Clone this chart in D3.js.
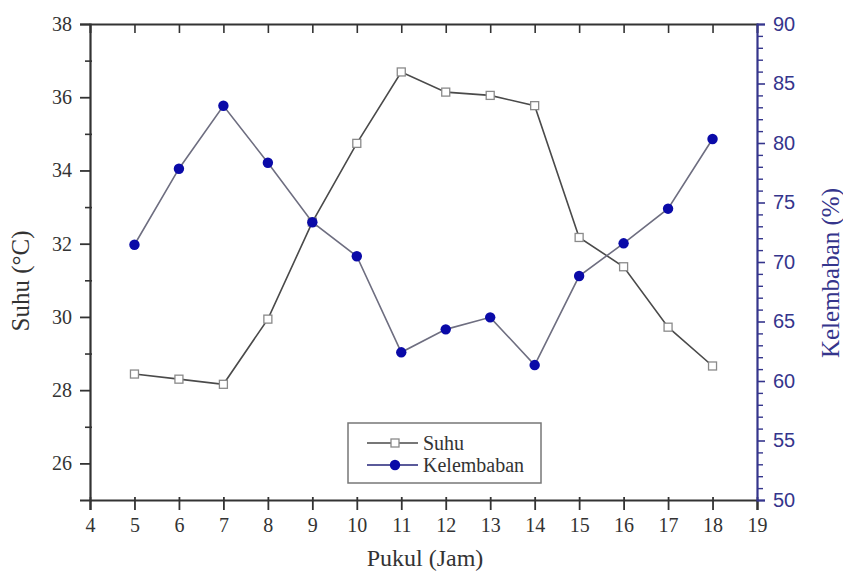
<!DOCTYPE html>
<html>
<head>
<meta charset="utf-8">
<script src="https://cdn.jsdelivr.net/npm/d3@7"></script>
<style>
  html, body { margin: 0; padding: 0; background: #fff; }
  svg { display: block; }
</style>
</head>
<body>
<svg id="chart" width="843" height="572"></svg>
<script>
// ---- Data ----
const hours = [5, 6, 7, 8, 9, 10, 11, 12, 13, 14, 15, 16, 17, 18];
const suhu = [28.44, 28.30, 28.16, 29.94, 32.59, 34.74, 36.69, 36.14, 36.05, 35.77, 32.17, 31.37, 29.72, 28.66];
const kelembaban = [71.45, 77.84, 83.13, 78.34, 73.34, 70.48, 62.41, 64.34, 65.35, 61.34, 68.82, 71.57, 74.48, 80.34];
const xTicks = [4, 5, 6, 7, 8, 9, 10, 11, 12, 13, 14, 15, 16, 17, 18, 19];
const leftTicks = [26, 28, 30, 32, 34, 36, 38];
const leftMinorTicks = [27, 29, 31, 33, 35, 37];
const rightTicks = [50, 55, 60, 65, 70, 75, 80, 85, 90];
const rightMinorTicks = d3.range(50, 91, 1).filter(v => v % 5 !== 0);
const seriesNames = ["Suhu", "Kelembaban"];
const titles = { x: "Pukul (Jam)", yLeft: "Suhu (\u00B0C)", yRight: "Kelembaban (%)" };

// ---- Layout ----
const svg = d3.select("#chart");
const L = 90, R = 757, T = 24, B = 500;
const serif = "'Liberation Serif', 'Times New Roman', serif";
const sans = "'Liberation Sans', Arial, sans-serif";
const dark = "#333";
const blue = "#35358c";

const x = d3.scaleLinear().domain([4, 19]).range([L, R]);
const yL = d3.scaleLinear().domain([25, 38]).range([B, T]);
const yR = d3.scaleLinear().domain([50, 90]).range([B, T]);

// Bottom axis
const gx = svg.append("g").attr("transform", `translate(0,${B})`)
  .call(d3.axisBottom(x).tickValues(xTicks).tickFormat(d3.format("d")).tickSizeOuter(0).tickSize(10).tickPadding(8));
gx.select(".domain").attr("stroke", dark).attr("stroke-width", 2.2);
gx.selectAll(".tick line").attr("stroke", dark).attr("stroke-width", 1.8).attr("y1", -3);
gx.selectAll(".tick text").attr("font-family", serif).attr("font-size", 20).attr("fill", dark);

// Top axis (ticks inward, no labels)
const gt = svg.append("g").attr("transform", `translate(0,${T})`)
  .call(d3.axisBottom(x).tickValues(xTicks.slice(1, -1)).tickFormat("").tickSizeOuter(0).tickSize(9));
gt.select(".domain").attr("stroke", dark).attr("stroke-width", 2);
gt.selectAll(".tick line").attr("stroke", dark).attr("stroke-width", 1.6);

// Left axis
const gl = svg.append("g").attr("transform", `translate(${L},0)`)
  .call(d3.axisLeft(yL).tickValues(leftTicks).tickFormat(d3.format("d")).tickSizeOuter(0).tickSize(10).tickPadding(8));
gl.select(".domain").attr("stroke", dark).attr("stroke-width", 2.2);
gl.selectAll(".tick line").attr("stroke", dark).attr("stroke-width", 1.8);
gl.selectAll(".tick text").attr("font-family", serif).attr("font-size", 20).attr("fill", dark);
const glm = svg.append("g").attr("transform", `translate(${L},0)`)
  .call(d3.axisLeft(yL).tickValues(leftMinorTicks).tickFormat("").tickSizeOuter(0).tickSize(5));
glm.select(".domain").remove();
glm.selectAll(".tick line").attr("stroke", dark).attr("stroke-width", 1.6).attr("x1", 2);

// Right axis
const gr = svg.append("g").attr("transform", `translate(${R},0)`)
  .call(d3.axisRight(yR).tickValues(rightTicks).tickFormat(d3.format("d")).tickSizeOuter(0).tickSize(8).tickPadding(8));
gr.select(".domain").attr("stroke", blue).attr("stroke-width", 2.2);
gr.selectAll(".tick line").attr("stroke", blue).attr("stroke-width", 1.6);
gr.selectAll(".tick text").attr("font-family", sans).attr("font-size", 20).attr("fill", blue);
const grm = svg.append("g").attr("transform", `translate(${R},0)`)
  .call(d3.axisRight(yR).tickValues(rightMinorTicks).tickFormat("").tickSizeOuter(0).tickSize(6));
grm.select(".domain").remove();
grm.selectAll(".tick line").attr("stroke", blue).attr("stroke-width", 1.4);

// Axis titles
svg.append("text").attr("x", 425).attr("y", 566).attr("text-anchor", "middle")
  .attr("font-family", serif).attr("font-size", 24).attr("fill", dark).text(titles.x);
svg.append("text").attr("transform", `translate(29,281) rotate(-90)`).attr("text-anchor", "middle")
  .attr("font-family", serif).attr("font-size", 25).attr("fill", dark).text(titles.yLeft);
svg.append("text").attr("transform", `translate(839,273) rotate(-90)`).attr("text-anchor", "middle")
  .attr("font-family", serif).attr("font-size", 25).attr("fill", blue).text(titles.yRight);

// Lines
const lineL = d3.line().x((d, i) => x(hours[i])).y(d => yL(d));
const lineR = d3.line().x((d, i) => x(hours[i])).y(d => yR(d));

svg.append("path").datum(suhu).attr("d", lineL).attr("fill", "none")
  .attr("stroke", "#4a4a4a").attr("stroke-width", 1.6);
svg.append("path").datum(kelembaban).attr("d", lineR).attr("fill", "none")
  .attr("stroke", "#6e6e80").attr("stroke-width", 1.6);

// Markers
const sq = 8;
svg.append("g").selectAll("rect").data(suhu).join("rect")
  .attr("x", (d, i) => x(hours[i]) - sq / 2).attr("y", d => yL(d) - sq / 2)
  .attr("width", sq).attr("height", sq)
  .attr("fill", "#fff").attr("stroke", "#8a8a8a").attr("stroke-width", 1.3);
svg.append("g").selectAll("circle").data(kelembaban).join("circle")
  .attr("cx", (d, i) => x(hours[i])).attr("cy", d => yR(d)).attr("r", 5.2)
  .attr("fill", "#0a0aa8");

// Legend
const lg = svg.append("g");
lg.append("rect").attr("x", 348).attr("y", 423).attr("width", 193).attr("height", 60)
  .attr("fill", "#fff").attr("stroke", "#777").attr("stroke-width", 1.5);
const rows = [
  { name: seriesNames[0], y: 443 },
  { name: seriesNames[1], y: 465 }
];
lg.append("line").attr("x1", 367).attr("x2", 418).attr("y1", rows[0].y).attr("y2", rows[0].y)
  .attr("stroke", "#4a4a4a").attr("stroke-width", 1.6);
lg.append("rect").attr("x", 395 - sq / 2).attr("y", rows[0].y - sq / 2).attr("width", sq).attr("height", sq)
  .attr("fill", "#fff").attr("stroke", "#8a8a8a").attr("stroke-width", 1.3);
lg.append("line").attr("x1", 367).attr("x2", 418).attr("y1", rows[1].y).attr("y2", rows[1].y)
  .attr("stroke", "#5a5a9a").attr("stroke-width", 1.8);
lg.append("circle").attr("cx", 395).attr("cy", rows[1].y).attr("r", 5.2).attr("fill", "#0a0aa8");
lg.selectAll("text.lab").data(rows).join("text").attr("class", "lab")
  .attr("x", 423).attr("y", d => d.y + 6.5)
  .attr("font-family", serif).attr("font-size", 20).attr("fill", dark).text(d => d.name);
</script>
</body>
</html>
